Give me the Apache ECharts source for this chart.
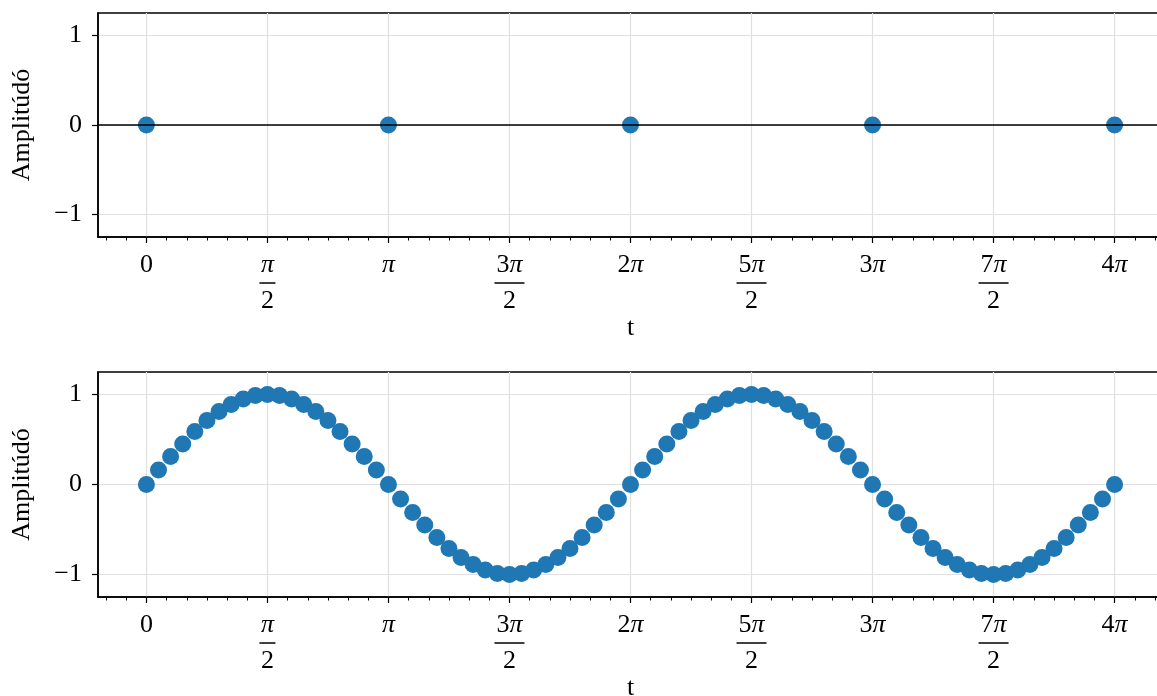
<!DOCTYPE html>
<html>
<head>
<meta charset="utf-8">
<title>Amplitúdó</title>
<script src="https://cdn.jsdelivr.net/npm/echarts@6/dist/echarts.min.js"></script>
<style>
  html, body { margin: 0; padding: 0; background: #fff; }
  #chart { width: 1157px; height: 696px; }
</style>
</head>
<body>
<div id="chart"></div>
<script>
// time is kept in units of pi
var tTop = [0, 1, 2, 3, 4];
var ampTop = [0, 0, 0, 0, 0];

var tBottom = [
  0, 0.05, 0.1, 0.15, 0.2, 0.25, 0.3, 0.35, 0.4, 0.45,
  0.5, 0.55, 0.6, 0.65, 0.7, 0.75, 0.8, 0.85, 0.9, 0.95,
  1, 1.05, 1.1, 1.15, 1.2, 1.25, 1.3, 1.35, 1.4, 1.45,
  1.5, 1.55, 1.6, 1.65, 1.7, 1.75, 1.8, 1.85, 1.9, 1.95,
  2, 2.05, 2.1, 2.15, 2.2, 2.25, 2.3, 2.35, 2.4, 2.45,
  2.5, 2.55, 2.6, 2.65, 2.7, 2.75, 2.8, 2.85, 2.9, 2.95,
  3, 3.05, 3.1, 3.15, 3.2, 3.25, 3.3, 3.35, 3.4, 3.45,
  3.5, 3.55, 3.6, 3.65, 3.7, 3.75, 3.8, 3.85, 3.9, 3.95,
  4
];
var ampBottom = [
  0, 0.16, 0.31, 0.45, 0.59, 0.71, 0.81, 0.89, 0.95, 0.99,
  1, 0.99, 0.95, 0.89, 0.81, 0.71, 0.59, 0.45, 0.31, 0.16,
  0, -0.16, -0.31, -0.45, -0.59, -0.71, -0.81, -0.89, -0.95, -0.99,
  -1, -0.99, -0.95, -0.89, -0.81, -0.71, -0.59, -0.45, -0.31, -0.16,
  0, 0.16, 0.31, 0.45, 0.59, 0.71, 0.81, 0.89, 0.95, 0.99,
  1, 0.99, 0.95, 0.89, 0.81, 0.71, 0.59, 0.45, 0.31, 0.16,
  0, -0.16, -0.31, -0.45, -0.59, -0.71, -0.81, -0.89, -0.95, -0.99,
  -1, -0.99, -0.95, -0.89, -0.81, -0.71, -0.59, -0.45, -0.31, -0.16,
  0
];

var xTicks = [0, 0.5, 1, 1.5, 2, 2.5, 3, 3.5, 4];
var xTickLabels = ['0', 'π/2', 'π', '3π/2', '2π', '5π/2', '3π', '7π/2', '4π'];
var yTicks = [-1, 0, 1];

var FONT = 'Liberation Serif';
var FS = 26;
var BLUE = '#1f77b4';

// minor ticks every pi/12 inside [-0.2, 4.2]
var minorTicks = [];
for (var k = -2; k <= 50; k++) {
  if (k % 6 !== 0) minorTicks.push(k / 12);
}

function piText(s) {
  // put the pi glyph in italic
  return ('{n|' + s.replace(/π/g, '}{p|π}{n|') + '}').replace(/\{n\|\}/g, '');
}

function xLabel(v) {
  var i = xTicks.indexOf(v);
  if (i < 0) return '';
  var s = xTickLabels[i];
  if (s.indexOf('/') < 0) return piText(s);
  var parts = s.split('/');
  var bar = parts[0].length > 1 ? 'b2' : 'b1';
  return piText(parts[0]) + '\n{' + bar + '| }\n{d|' + parts[1] + '}';
}

var richX = {
  n: { fontFamily: FONT, fontSize: FS, lineHeight: 24, align: 'center', color: '#000' },
  p: { fontFamily: FONT, fontSize: FS, lineHeight: 24, fontStyle: 'italic', align: 'center', color: '#000' },
  b1: { width: 16, height: 1.5, lineHeight: 12, backgroundColor: '#000', align: 'center' },
  b2: { width: 30, height: 1.5, lineHeight: 12, backgroundColor: '#000', align: 'center' },
  d: { fontFamily: FONT, fontSize: FS, lineHeight: 24, align: 'center', color: '#000' }
};

function mainX(gridIndex) {
  return {
    type: 'value', gridIndex: gridIndex, min: -0.2, max: 4.2,
    name: 't', nameLocation: 'middle', nameGap: 78,
    nameTextStyle: { fontFamily: FONT, fontSize: FS, color: '#000' },
    axisLine: { show: true, onZero: false, lineStyle: { color: '#000', width: 1.5 } },
    axisTick: { show: true, inside: false, length: 6, customValues: xTicks, lineStyle: { color: '#000', width: 1.2 } },
    axisLabel: { show: true, margin: 16, customValues: xTicks, formatter: xLabel, rich: richX },
    splitLine: { show: true, lineStyle: { color: '#e0e0e0', width: 1.2 } }
  };
}

function minorX(gridIndex) {
  return {
    type: 'value', gridIndex: gridIndex, min: -0.2, max: 4.2, position: 'bottom',
    axisLine: { show: false, onZero: false },
    axisTick: { show: true, inside: false, length: 3.5, customValues: minorTicks, lineStyle: { color: '#000', width: 1 } },
    axisLabel: { show: false },
    splitLine: { show: false }
  };
}

function mainY(gridIndex) {
  return {
    type: 'value', gridIndex: gridIndex, min: -1.25, max: 1.25,
    name: 'Amplitúdó', nameLocation: 'middle', nameGap: 63, nameRotate: 90,
    nameTextStyle: { fontFamily: FONT, fontSize: FS, color: '#000' },
    axisLine: { show: true, onZero: false, lineStyle: { color: '#000', width: 1.5 } },
    axisTick: { show: true, inside: false, length: 6, customValues: yTicks, lineStyle: { color: '#000', width: 1.2 } },
    axisLabel: {
      show: true, margin: 16, customValues: yTicks,
      fontFamily: FONT, fontSize: FS, color: '#000',
      formatter: function (v) { return v < 0 ? '\u2212' + Math.abs(v) : String(v); }
    },
    splitLine: { show: true, lineStyle: { color: '#e0e0e0', width: 1.2 } }
  };
}

function zip(a, b) {
  var out = [];
  for (var i = 0; i < a.length; i++) out.push([a[i], b[i]]);
  return out;
}

var chart = echarts.init(document.getElementById('chart'), null, { renderer: 'canvas' });
chart.setOption({
  animation: false,
  backgroundColor: '#fff',
  grid: [
    { left: 98, top: 13, width: 1065, height: 224, outerBoundsMode: 'none', containLabel: false,
      show: true, borderColor: '#000', borderWidth: 1.5, backgroundColor: 'transparent' },
    { left: 98, top: 372, width: 1065, height: 225, outerBoundsMode: 'none', containLabel: false,
      show: true, borderColor: '#000', borderWidth: 1.5, backgroundColor: 'transparent' }
  ],
  xAxis: [mainX(0), minorX(0), mainX(1), minorX(1)],
  yAxis: [mainY(0), mainY(1)],
  series: [
    {
      type: 'scatter', xAxisIndex: 0, yAxisIndex: 0,
      data: zip(tTop, ampTop),
      symbolSize: 17,
      itemStyle: { color: BLUE, opacity: 1 },
      markLine: {
        silent: true, symbol: ['none', 'none'],
        label: { show: false },
        lineStyle: { color: '#000', width: 1.5, type: 'solid' },
        data: [{ yAxis: 0 }]
      }
    },
    {
      type: 'scatter', xAxisIndex: 2, yAxisIndex: 1,
      data: zip(tBottom, ampBottom),
      symbolSize: 17,
      itemStyle: { color: BLUE, opacity: 1 }
    }
  ]
});
</script>
</body>
</html>
